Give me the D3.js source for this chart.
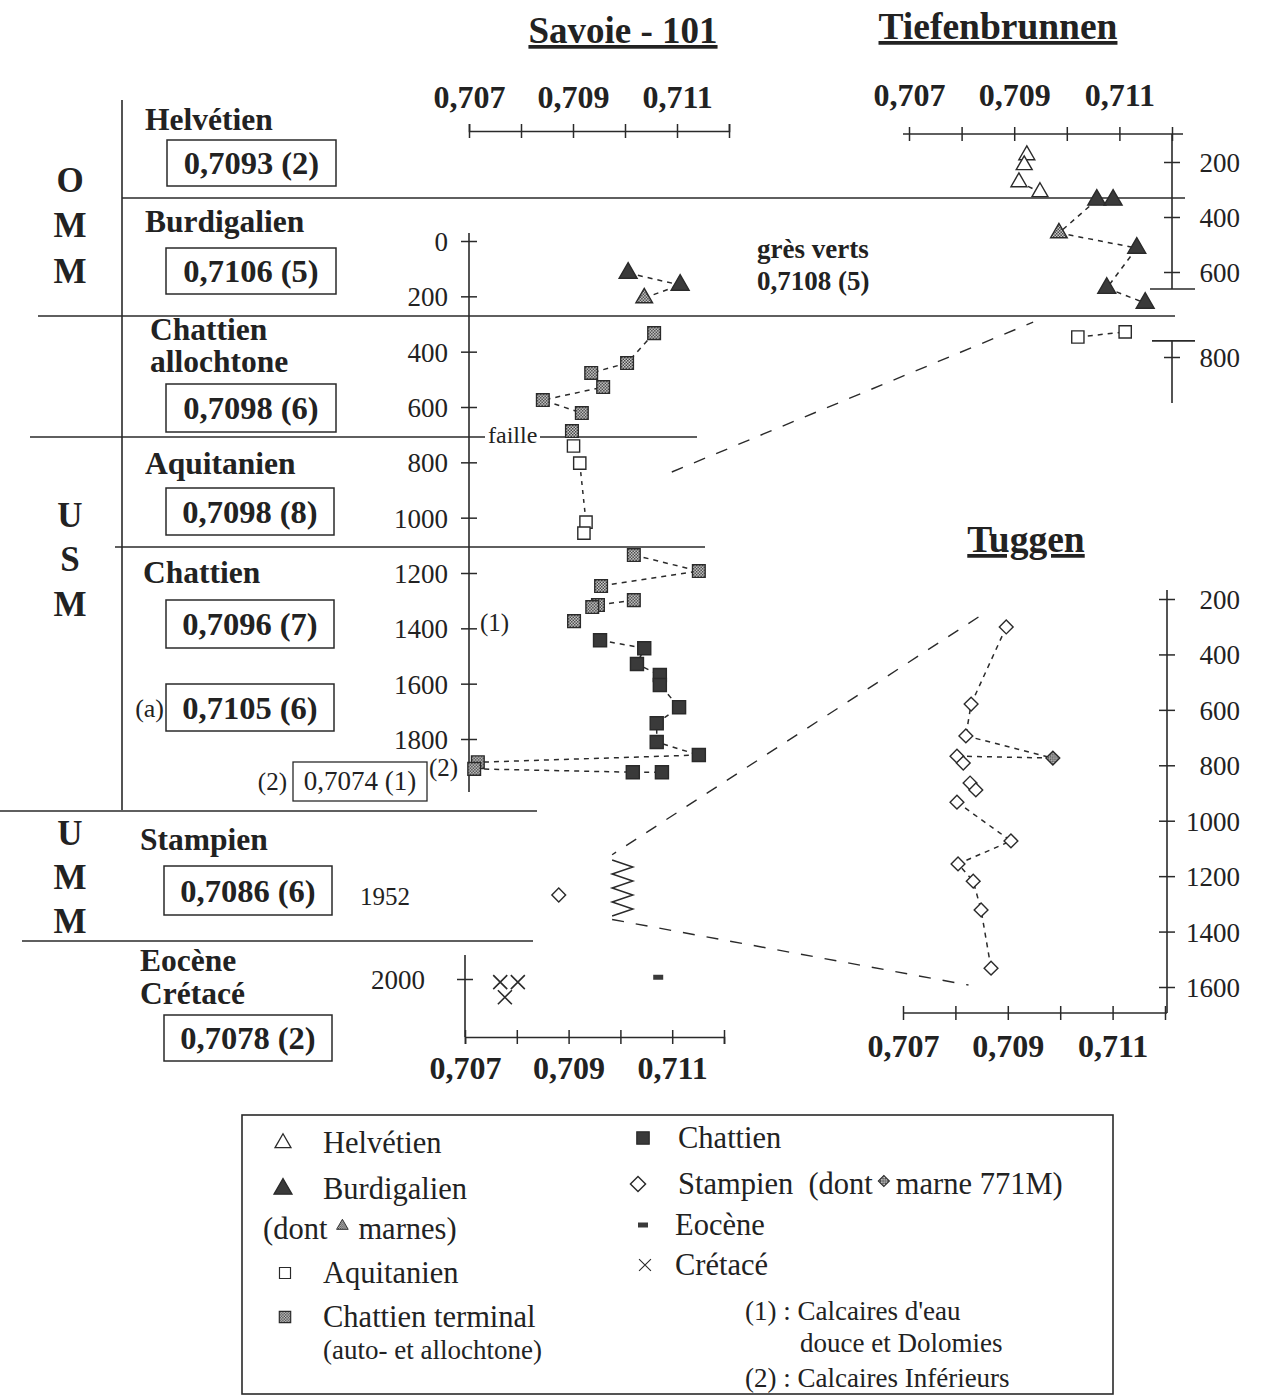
<!DOCTYPE html>
<meta charset="utf-8">
<script src="https://d3js.org/d3.v7.min.js"></script>
<style>
  body { margin: 0; background: #fff; }
  svg text { font-family: "Liberation Serif", "Times New Roman", serif; fill: #222; white-space: pre; }
</style>
<div id="chart"></div>
<script>
// ---- data : [87Sr/86Sr value, depth (m)] ----
// Savoie - 101
const savoieBurdigalien = [[0.71006, 116], [0.71106, 159]];
const savoieBurdMarne = [[0.71037, 206]];
const savoieChatTermAllo = [[0.71056, 333], [0.71004, 441], [0.70935, 477], [0.70958, 528],
                            [0.70842, 575], [0.70917, 622], [0.70898, 687]];
const savoieAquitanien = [[0.70901, 741], [0.70913, 803], [0.70925, 1016], [0.70921, 1056]];
const savoieChatTermAuto = [[0.71017, 1135], [0.71142, 1193], [0.70954, 1247], [0.71017, 1298],
                            [0.70948, 1316], [0.70937, 1323], [0.70902, 1374], [0.70717, 1884], [0.70710, 1908]];
const savoieChattien = [[0.70952, 1443], [0.71037, 1472], [0.71023, 1529], [0.71067, 1569], [0.71067, 1605],
                        [0.71104, 1685], [0.71061, 1743], [0.71061, 1811], [0.71142, 1858],
                        [0.71015, 1920], [0.71071, 1920]];
// lower (broken) part of the Savoie log
const savoieStampien = [[0.70881, 1952]];
const savoieEocene = [[0.71073, 1999]];
const savoieCretace = [[0.70768, 2011], [0.70802, 2011], [0.70777, 2065]];
const zigzagValues = [0.70984, 0.71024, 0.70984, 0.71024, 0.70984, 0.71024, 0.70984, 0.71024, 0.70984];
const zigzagDepths = [1932, 1936, 1940, 1944, 1948, 1952, 1956, 1960, 1964];

// Tiefenbrunnen
const tiefHelvetien = [[0.70924, 175], [0.70919, 211], [0.70909, 273], [0.70949, 309]];
const tiefBurdigalien = [[0.71057, 338], [0.71088, 338], [0.71133, 513], [0.71076, 638], [0.71149, 673]];
const tiefBurdMarne = [[0.70985, 458]];
const tiefAquitanien = [[0.71021, 753], [0.71111, 741]];

// Tuggen
const tugStampien = [[0.70897, 301], [0.70830, 579], [0.70820, 694], [0.70803, 767], [0.70815, 792],
                     [0.70828, 864], [0.70839, 889], [0.70803, 933], [0.70906, 1073], [0.70805, 1156],
                     [0.70834, 1218], [0.70849, 1322], [0.70868, 1532]];
const tugMarne = [[0.70986, 774]];

// axes
const valueTicks = [0.707, 0.708, 0.709, 0.710, 0.711, 0.712];
const valueLabels = [0.707, 0.709, 0.711];
const savoieDepthTicks = [0, 200, 400, 600, 800, 1000, 1200, 1400, 1600, 1800];
const savoieLowTicks = [2000];
const tiefDepthTicks = [200, 400, 600, 800];
const tiefBreak = [640, 762];
const tugDepthTicks = [200, 400, 600, 800, 1000, 1200, 1400, 1600];

// stratigraphic table
const stages = [
  {name: ["Helvétien"], value: "0,7093 (2)"},
  {name: ["Burdigalien"], value: "0,7106 (5)"},
  {name: ["Chattien", "allochtone"], value: "0,7098 (6)"},
  {name: ["Aquitanien"], value: "0,7098 (8)"},
  {name: ["Chattien"], value: "0,7096 (7)"},
  {name: [], value: "0,7105 (6)", pre: "(a)"},
  {name: ["Stampien"], value: "0,7086 (6)"},
  {name: ["Eocène", "Crétacé"], value: "0,7078 (2)"}
];

const W = 1263, H = 1396;
const ink = "#2a2a2a", dark = "#3a3a3a";
const svg = d3.select("#chart").append("svg").attr("width", W).attr("height", H);
svg.append("rect").attr("width", W).attr("height", H).attr("fill", "#fff");

// checkered fill
const defs = svg.append("defs");
const pat = defs.append("pattern").attr("id", "chk").attr("patternUnits", "userSpaceOnUse")
  .attr("width", 3).attr("height", 3);
pat.append("rect").attr("width", 3).attr("height", 3).attr("fill", "#d8d8d8");
pat.append("rect").attr("width", 1.5).attr("height", 1.5).attr("fill", "#3a3a3a");
pat.append("rect").attr("x", 1.5).attr("y", 1.5).attr("width", 1.5).attr("height", 1.5).attr("fill", "#3a3a3a");

// scales
const savoieX = d3.scaleLinear().domain([0.707, 0.712]).range([469, 729]);
const savoieXLow = d3.scaleLinear().domain([0.707, 0.712]).range([465, 724]);
const savoieY = d3.scaleLinear().domain([0, 1800]).range([241, 739]);
const savoieYLow = d3.scaleLinear().domain([1952, 2000, 2100]).range([895, 979, 1007]);
const tiefX = d3.scaleLinear().domain([0.707, 0.712]).range([909, 1172]);
const tiefY = d3.scaleLinear().domain([200, 600, 800]).range([162, 272, 357]);
const tugX = d3.scaleLinear().domain([0.707, 0.712]).range([903, 1165]);
const tugY = d3.scaleLinear().domain([200, 1600]).range([599, 987]);

const fmt = v => d3.format(".3f")(v).replace(".", ",");

// ---- symbols ----
const shapes = {
  triOpen: {d: d3.symbol(d3.symbolTriangle, 110)(), fill: "#fff"},
  triFill: {d: d3.symbol(d3.symbolTriangle, 140)(), fill: dark},
  triMarne: {d: d3.symbol(d3.symbolTriangle, 120)(), fill: "url(#chk)"},
  sqOpen: {d: d3.symbol(d3.symbolSquare, 150)(), fill: "#fff"},
  sqFill: {d: d3.symbol(d3.symbolSquare, 170)(), fill: dark},
  sqCheck: {d: d3.symbol(d3.symbolSquare, 160)(), fill: "url(#chk)"},
  diaOpen: {d: d3.symbol(d3.symbolSquare, 95)(), fill: "#fff", rot: 45},
  diaMarne: {d: d3.symbol(d3.symbolSquare, 95)(), fill: "url(#chk)", rot: 45},
  cross: {d: "M-7,-7L7,7M-7,7L7,-7", fill: "none"},
  dash: {d: "M-5,-2.5h10v5h-10z", fill: dark}
};

function marks(data, xs, ys, kind) {
  const s = shapes[kind];
  svg.append("g").selectAll("path").data(data).join("path")
    .attr("transform", d => `translate(${xs(d[0])},${ys(d[1])})` + (s.rot ? ` rotate(${s.rot})` : ""))
    .attr("d", s.d)
    .attr("fill", s.fill)
    .attr("stroke", kind === "dash" ? "none" : ink)
    .attr("stroke-width", kind === "cross" ? 1.6 : 1.4);
}

function dashed(points, xs, ys, dash = "5,5") {
  svg.append("path")
    .attr("d", d3.line().x(d => xs(d[0])).y(d => ys(d[1]))(points))
    .attr("fill", "none").attr("stroke", ink).attr("stroke-width", 1.5)
    .attr("stroke-dasharray", dash);
}

function hline(x1, x2, y, w = 1.6) {
  svg.append("line").attr("x1", x1).attr("x2", x2).attr("y1", y).attr("y2", y)
    .attr("stroke", ink).attr("stroke-width", w);
}

function label(x, y, txt, size, opts = {}) {
  return svg.append("text").attr("x", x).attr("y", y).text(txt)
    .attr("font-size", size)
    .attr("font-weight", opts.bold ? "bold" : "normal")
    .attr("text-anchor", opts.anchor || "start");
}

// ---- value axes ----
function valueAxis(xs, y, orient, labelOffset) {
  const ax = (orient === "top" ? d3.axisTop(xs) : d3.axisBottom(xs))
    .tickValues(valueTicks).tickSizeOuter(0).tickSize(7)
    .tickFormat(v => valueLabels.some(l => Math.abs(l - v) < 1e-6) ? fmt(v) : "");
  const g = svg.append("g").attr("transform", `translate(0,${y})`).call(ax);
  g.attr("font-family", null).attr("font-size", null);
  g.select(".domain").attr("stroke", ink).attr("stroke-width", 1.6);
  g.selectAll(".tick line").attr("y1", -7).attr("y2", 7).attr("stroke", ink).attr("stroke-width", 1.5);
  g.selectAll(".tick text").attr("y", labelOffset).attr("dy", 0)
    .attr("font-size", 32).attr("font-weight", "bold").attr("fill", "#222");
  return g;
}

function depthAxis(ys, x, ticks, side, labelX, yFrom, yTo) {
  const ax = (side === "left" ? d3.axisLeft(ys) : d3.axisRight(ys))
    .tickValues(ticks).tickSizeOuter(0).tickSize(8).tickFormat(d3.format("d"));
  const g = svg.append("g").attr("transform", `translate(${x},0)`).call(ax);
  g.attr("font-family", null).attr("font-size", null);
  g.select(".domain").remove();
  g.append("line").attr("y1", yFrom).attr("y2", yTo).attr("stroke", ink).attr("stroke-width", 1.6);
  g.selectAll(".tick line").attr("x1", -8).attr("x2", 8).attr("stroke", ink).attr("stroke-width", 1.5);
  g.selectAll(".tick text").attr("x", labelX).attr("dy", "0.35em")
    .attr("text-anchor", "end").attr("font-size", 27).attr("fill", "#222");
  return g;
}

// ---- stratigraphic frame ----
hline(122, 1185, 198);
hline(38, 1175, 316);
hline(30, 485, 437);
hline(540, 697, 437);
hline(115, 705, 547);
hline(0, 537, 811);
hline(22, 533, 941);
svg.append("line").attr("x1", 122).attr("x2", 122).attr("y1", 100).attr("y2", 810)
  .attr("stroke", ink).attr("stroke-width", 1.6);
label(488, 443, "faille", 24);

[["O", 180], ["M", 225], ["M", 271], ["U", 515], ["S", 559], ["M", 604], ["U", 833], ["M", 877], ["M", 921]]
  .forEach(([t, y]) => label(70, y + 12, t, 35, {bold: true, anchor: "middle"}));

const stageNameY = [[120], [222], [330, 362], [464], [573], [], [840], [961, 994]];
const stageNameX = [145, 145, 150, 145, 143, 0, 140, 140];
const boxes = [[167, 140, 169, 46], [166, 248, 170, 46], [166, 384, 170, 48], [166, 488, 168, 47],
               [166, 600, 168, 48], [166, 684, 168, 47], [164, 866, 168, 49], [164, 1015, 168, 46]];
stages.forEach((s, i) => {
  s.name.forEach((n, j) => label(stageNameX[i], stageNameY[i][j] + 10, n, 31.5, {bold: true}));
  const b = boxes[i];
  svg.append("rect").attr("x", b[0]).attr("y", b[1]).attr("width", b[2]).attr("height", b[3])
    .attr("fill", "none").attr("stroke", ink).attr("stroke-width", 1.5);
  label(b[0] + b[2] / 2, b[1] + b[3] / 2 + 11, s.value, 32.5, {bold: true, anchor: "middle"});
  if (s.pre) label(b[0] - 2, b[1] + b[3] / 2 + 9, s.pre, 26, {anchor: "end"});
});
// Calcaires inférieurs box
svg.append("rect").attr("x", 293).attr("y", 762).attr("width", 134).attr("height", 39)
  .attr("fill", "none").attr("stroke", ink).attr("stroke-width", 1.3);
label(360, 790, "0,7074 (1)", 27, {anchor: "middle"});
label(287, 790, "(2)", 25, {anchor: "end"});
label(429, 776, "(2)", 25);
label(480, 631, "(1)", 25);
label(360, 905, "1952", 25);

// ---- titles ----
label(623, 43, "Savoie - 101", 37, {bold: true, anchor: "middle"}).style("text-decoration", "underline");
label(998, 39, "Tiefenbrunnen", 37.5, {bold: true, anchor: "middle"}).style("text-decoration", "underline");
label(1026, 552, "Tuggen", 37.5, {bold: true, anchor: "middle"}).style("text-decoration", "underline");
label(757, 258, "grès verts", 27, {bold: true});
label(757, 290, "0,7108 (5)", 27, {bold: true});

// ---- Savoie axes ----
valueAxis(savoieX, 131, "top", -23);
valueAxis(savoieXLow, 1037, "bottom", 42);
depthAxis(savoieY, savoieX(0.707), savoieDepthTicks, "left", -21, 233, 792);
depthAxis(savoieYLow, savoieXLow(0.707), savoieLowTicks, "left", -40, 955, 1037);

// ---- Tiefenbrunnen axes ----
const tg = valueAxis(tiefX, 134, "top", -28);
tg.select(".domain").remove();
hline(903, 1183, 134);
const td = depthAxis(tiefY, tiefX(0.712), tiefDepthTicks, "right", 68, 134, tiefY(tiefBreak[0]));
td.append("line").attr("y1", tiefY(tiefBreak[1])).attr("y2", 403).attr("stroke", ink).attr("stroke-width", 1.6);
hline(tiefX(0.712) - 22, tiefX(0.712) + 23, tiefY(tiefBreak[0]));
hline(tiefX(0.712) - 20, tiefX(0.712) + 23, tiefY(tiefBreak[1]));

// ---- Tuggen axes ----
const ug = valueAxis(tugX, 1013, "bottom", 44);
ug.select(".domain").remove();
hline(903, 1167, 1013);
depthAxis(tugY, 1167, tugDepthTicks, "right", 73, 590, 1013);

// ---- correlation lines ----
function corr(x1, y1, x2, y2) {
  svg.append("path").attr("d", `M${x1},${y1}L${x2},${y2}`)
    .attr("stroke", ink).attr("stroke-width", 1.4).attr("stroke-dasharray", "12,12").attr("fill", "none");
}
corr(savoieX(0.7109), savoieY(835), tiefX(0.70936), tiefY(718));
corr(tugX(0.70844), tugY(265), savoieXLow(zigzagValues[0]), savoieYLow(1929));
corr(savoieXLow(zigzagValues[0]), savoieYLow(1966), tugX(0.70825), tugY(1593));

// zigzag (lacune)
svg.append("path")
  .attr("d", d3.line().x(v => savoieXLow(v)).y((v, i) => savoieYLow(zigzagDepths[i]))(zigzagValues))
  .attr("fill", "none").attr("stroke", ink).attr("stroke-width", 1.5);

// ---- Savoie connectors and marks ----
dashed([savoieBurdigalien[0], savoieBurdigalien[1]], savoieX, savoieY);
dashed([savoieBurdMarne[0], savoieBurdigalien[1]], savoieX, savoieY);
dashed(savoieChatTermAllo.slice(0, 6), savoieX, savoieY);
dashed([savoieAquitanien[1], savoieAquitanien[2]], savoieX, savoieY, "4,5");
dashed(savoieChatTermAuto.slice(0, 3), savoieX, savoieY);
dashed([savoieChatTermAuto[3], savoieChatTermAuto[4]], savoieX, savoieY);
dashed(savoieChattien.slice(0, 9), savoieX, savoieY);
dashed([savoieChattien[8], savoieChatTermAuto[7]], savoieX, savoieY);
dashed([savoieChatTermAuto[8], savoieChattien[9], savoieChattien[10]], savoieX, savoieY);

marks(savoieBurdigalien, savoieX, savoieY, "triFill");
marks(savoieBurdMarne, savoieX, savoieY, "triMarne");
marks(savoieChatTermAllo, savoieX, savoieY, "sqCheck");
marks(savoieAquitanien, savoieX, savoieY, "sqOpen");
marks(savoieChatTermAuto, savoieX, savoieY, "sqCheck");
marks(savoieChattien, savoieX, savoieY, "sqFill");
marks(savoieStampien, savoieXLow, savoieYLow, "diaOpen");
marks(savoieEocene, savoieXLow, savoieYLow, "dash");
marks(savoieCretace, savoieXLow, savoieYLow, "cross");

// ---- Tiefenbrunnen connectors and marks ----
dashed([tiefHelvetien[2], tiefHelvetien[3]], tiefX, tiefY);
dashed([tiefBurdigalien[0], tiefBurdMarne[0], tiefBurdigalien[2], tiefBurdigalien[3], tiefBurdigalien[4]], tiefX, tiefY);
dashed(tiefAquitanien, tiefX, tiefY);
marks(tiefHelvetien, tiefX, tiefY, "triOpen");
marks(tiefBurdigalien, tiefX, tiefY, "triFill");
marks(tiefBurdMarne, tiefX, tiefY, "triMarne");
marks(tiefAquitanien, tiefX, tiefY, "sqOpen");

// ---- Tuggen connectors and marks ----
dashed(tugStampien.slice(0, 3), tugX, tugY);
dashed([tugStampien[2], tugMarne[0]], tugX, tugY);
dashed([tugStampien[3], tugMarne[0]], tugX, tugY);
dashed(tugStampien.slice(7), tugX, tugY);
marks(tugStampien, tugX, tugY, "diaOpen");
marks(tugMarne, tugX, tugY, "diaMarne");

// ---- legend ----
svg.append("rect").attr("x", 242).attr("y", 1115).attr("width", 871).attr("height", 279)
  .attr("fill", "none").attr("stroke", ink).attr("stroke-width", 1.6);

const legendItems = [
  {kind: "triOpen", x: 283, y: 1143, text: "Helvétien", tx: 323},
  {kind: "triFill", x: 283, y: 1189, text: "Burdigalien", tx: 323},
  {kind: "sqOpen", x: 285, y: 1273, text: "Aquitanien", tx: 323},
  {kind: "sqCheck", x: 285, y: 1317, text: "Chattien terminal", tx: 323},
  {kind: "sqFill", x: 643, y: 1138, text: "Chattien", tx: 678},
  {kind: "diaOpen", x: 638, y: 1184, text: "Stampien  (dont", tx: 678},
  {kind: "dash", x: 643, y: 1225, text: "Eocène", tx: 675},
  {kind: "cross", x: 645, y: 1265, text: "Crétacé", tx: 675}
];
const legendScale = {
  triOpen: 1, triFill: 1, sqOpen: 0.9, sqCheck: 0.9, sqFill: 0.95, diaOpen: 1.1, dash: 1, cross: 0.85
};
const legendText = {};
legendItems.forEach(it => {
  const s = shapes[it.kind];
  svg.append("path")
    .attr("transform", `translate(${it.x},${it.y}) scale(${legendScale[it.kind]})` + (s.rot ? ` rotate(${s.rot})` : ""))
    .attr("d", s.d).attr("fill", s.fill)
    .attr("stroke", it.kind === "dash" ? "none" : ink).attr("stroke-width", 1.3);
  legendText[it.kind] = label(it.tx, it.y + 10, it.text, 30.5);
});
const dontT = label(263, 1239, "(dont", 30.5);
const dontEnd = 263 + dontT.node().getComputedTextLength();
svg.append("path").attr("transform", `translate(${dontEnd + 15},1226) scale(0.7)`)
  .attr("d", shapes.triMarne.d).attr("fill", "url(#chk)").attr("stroke", ink).attr("stroke-width", 1.3);
label(dontEnd + 31, 1239, "marnes)", 30.5);
const stEnd = 678 + legendText.diaOpen.node().getComputedTextLength();
svg.append("path").attr("transform", `translate(${stEnd + 11},1181) scale(0.8) rotate(45)`)
  .attr("d", shapes.diaMarne.d).attr("fill", "url(#chk)").attr("stroke", ink).attr("stroke-width", 1.4);
label(stEnd + 23, 1194, "marne 771M)", 30.5);
label(323, 1359, "(auto- et allochtone)", 27);
label(745, 1320, "(1) : Calcaires d'eau", 27);
label(800, 1352, "douce et Dolomies", 27);
label(745, 1387, "(2) : Calcaires Inférieurs", 27);
</script>
